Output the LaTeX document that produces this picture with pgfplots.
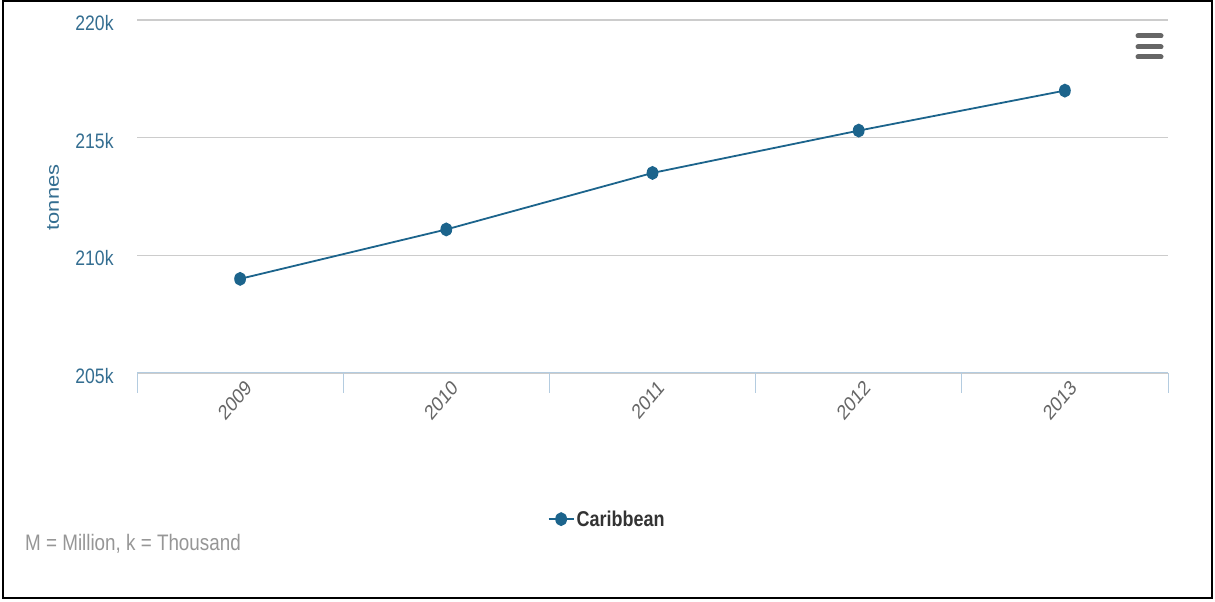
\documentclass[border=0pt]{standalone}
\usepackage{fontspec}
\setmainfont{Liberation Sans}[FakeStretch=0.84]
\newfontfamily\plainfont{Liberation Sans}
\usepackage{pgfplots}
\pgfplotsset{compat=1.18}
\definecolor{series}{RGB}{28,100,140}
\definecolor{axislab}{RGB}{52,110,145}
\definecolor{gridcol}{RGB}{204,204,204}
\definecolor{xaxiscol}{RGB}{180,204,224}
\definecolor{ticktext}{RGB}{102,102,102}
\definecolor{legtext}{RGB}{51,51,51}
\definecolor{notecol}{RGB}{150,150,150}
\definecolor{menucol}{RGB}{102,102,102}
% slanted year label, narrowed horizontally after rotation
\newcommand\yearlab[1]{\scalebox{0.83}[1]{\rotatebox{45}{\plainfont #1}}}
\begin{document}
\begin{tikzpicture}[x=1bp,y=1bp]
  % page extent and outer frame
  \path[fill=white] (0,0) rectangle (1215,602);
  \draw[black, line width=2bp] (3,4) rectangle (1212,601);
  \begin{axis}[
    at={(137bp,229bp)}, anchor=south west,
    scale only axis, width=1031bp, height=353bp,
    xmin=-0.5, xmax=4.5, ymin=205, ymax=220,
    axis x line=bottom, axis y line=left,
    x axis line style={-, draw=xaxiscol, line width=1bp},
    y axis line style={draw=none},
    xtick={0,1,2,3,4},
    xticklabels={\yearlab{2009},\yearlab{2010},\yearlab{2011},\yearlab{2012},\yearlab{2013}},
    major x tick style={draw=none},
    minor xtick={-0.5,0.5,1.5,2.5,3.5,4.5},
    minor x tick style={draw=xaxiscol, line width=1bp},
    minor tick length=20bp,
    tick align=outside,
    ytick={205,210,215,220},
    yticklabels={205k,210k,215k,220k},
    ytick style={draw=none},
    ymajorgrids, major grid style={draw=gridcol, line width=1.5bp},
    yticklabel style={font=\fontsize{21}{22}\selectfont, text=axislab, anchor=east,
      inner sep=0pt, xshift=-19bp, yshift=-3bp},
    xticklabel style={font=\fontsize{21}{22}\selectfont, text=ticktext, anchor=north east,
      inner sep=0pt, xshift=13bp, yshift=-1bp},
    ylabel={\scalebox{1}[0.83]{\plainfont tonnes}},
    ylabel style={font=\fontsize{22}{23}\selectfont, text=axislab,
      at={(axis description cs:-0.0815,0.497)}, anchor=center, inner sep=0pt},
    legend style={at={(0.456,-0.414)}, anchor=center, draw=none, fill=none,
      font=\fontsize{21.5}{22}\selectfont\bfseries\color{legtext}},
    legend image code/.code={
      \draw[line width=2bp] (0bp,0bp) -- (25bp,0bp);
      \fill (12.5bp,0bp) ellipse [x radius=5bp, y radius=6bp];},
    clip=false,
  ]
    \addplot[series, line width=1.8bp, mark=*, mark size=6bp,
      mark options={fill=series, draw=none, xscale=0.83}]
      coordinates {(0,209.0) (1,211.1) (2,213.5) (3,215.3) (4,217.0)};
    \addlegendentry{Caribbean}
  \end{axis}
  % footnote on units
  \node[anchor=west, text=notecol, font=\fontsize{22.5}{23}\selectfont, inner sep=0] at (25,58) {M = Million, k = Thousand};
  % menu icon
  \foreach \yy in {566,555,545}
    \draw[menucol, line width=5bp, line cap=round] (1138,\yy) -- (1161,\yy);
\end{tikzpicture}
\end{document}
